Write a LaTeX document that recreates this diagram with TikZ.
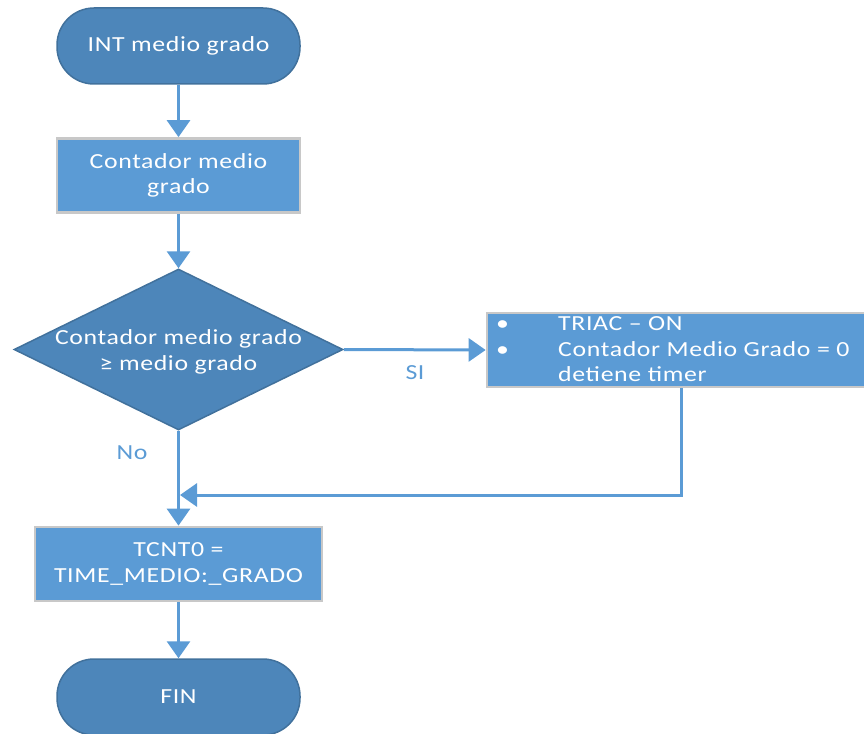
\documentclass[tikz,border=0pt]{standalone}
\usepackage{fontspec}
\setmainfont{Carlito}[FakeStretch=1.2,LetterSpace=3]
\usepackage{tikz}
\usetikzlibrary{arrows.meta,positioning,shapes.geometric,calc}
\definecolor{flowBlue}{HTML}{5B9BD5}
\definecolor{flowDark}{HTML}{4D86BA}
\definecolor{flowEdge}{HTML}{41719C}
\definecolor{flowGray}{HTML}{C8C8C8}

\begin{document}
\begin{tikzpicture}[
    x=1pt, y=-1pt,
    font=\fontsize{21.5}{25.5}\selectfont,
    terminal/.style={draw=flowEdge, fill=flowDark, line width=1.5pt, rounded corners=37pt, minimum width=243pt, minimum height=76pt, text=white, inner sep=0pt},
    process/.style={draw=flowGray, fill=flowBlue, line width=2.7pt, minimum width=#1, minimum height=74pt, text=white, align=center, inner sep=0pt},
    decision/.style={diamond, draw=flowEdge, fill=flowDark, line width=1.5pt, minimum width=329pt, minimum height=161pt, inner sep=0pt},
    txt/.style={text=white, align=center, inner sep=0pt},
    lbl/.style={text=flowBlue, inner sep=0pt},
    arrow/.style={-{Triangle[length=17pt,width=23pt]}, line width=3pt, draw=flowBlue}
]
\useasboundingbox (0,0) rectangle (864,733);

\node[terminal] (start) at (178.5,46) {INT medio grado};
\node[process=243pt] (cnt) at (178.5,175.5) {Contador medio\\grado};
\node[decision] (dec) at (178.5,349.5) {};
\node[txt] (decText) at (178.5,352) {Contador medio grado\\≥ medio grado};
\node[process=381pt] (act) at (677.5,350) {};
\node[txt, anchor=west, align=left] (actText) at (496,351) {%
  \begin{tabular}{@{}p{62pt}@{}l@{}}
  \textbullet & TRIAC – ON\\
  \textbullet & Contador Medio Grado = 0\\
              & detiene timer
  \end{tabular}};
\node[process=287pt] (load) at (178.5,564) {TCNT0 =\\TIME\_MEDIO:\_GRADO};
\node[terminal] (fin) at (178.5,697) {FIN};

\node[lbl] (si) at (415,373) {SI};
\node[lbl] (no) at (132,453) {No};
\coordinate (back) at (681,495);

\draw[arrow] (start.south) -- (cnt.north);
\draw[arrow] (cnt.south) -- (dec.north);
\draw[arrow] (dec.east) -- (act.west);
\draw[arrow] (dec.south) -- (load.north);
\draw[arrow, shorten >=1.5pt] (act.south -| back) -- (back) -- (back -| dec.south);
\draw[arrow] (load.south) -- (fin.north);
\end{tikzpicture}
\end{document}
